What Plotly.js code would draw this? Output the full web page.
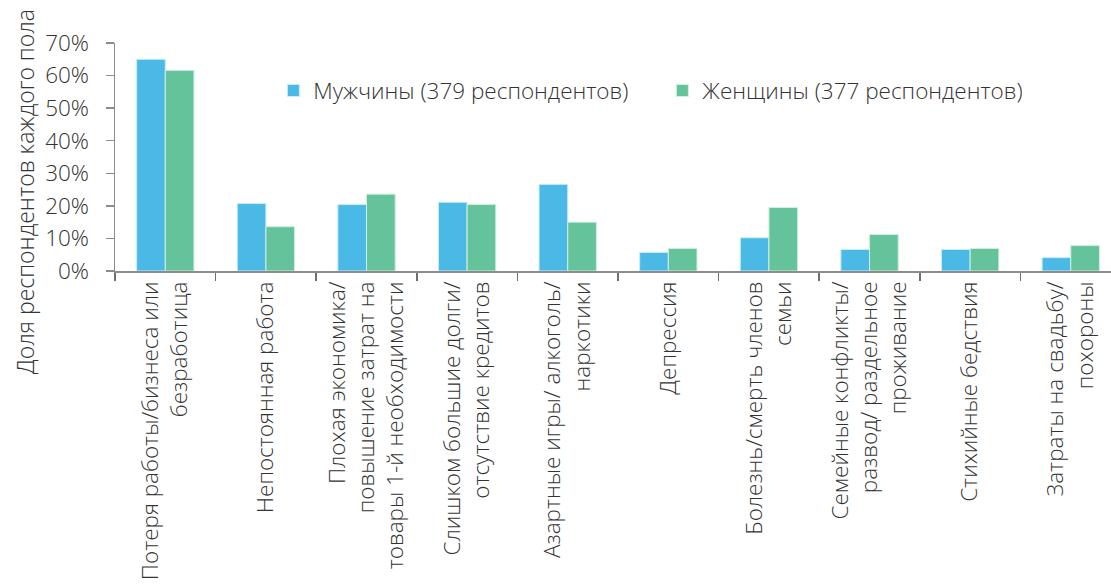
<!DOCTYPE html>
<html>
<head>
<meta charset="utf-8">
<script src="https://cdn.plot.ly/plotly-3.0.1.min.js"></script>
<style>html,body{margin:0;padding:0;overflow:hidden;background:#fff;}</style>
</head>
<body>
<div id="chart" style="width:1111px;height:584px;"></div>
<script>
const categories = [
  "Потеря работы/бизнеса или<br>безработица",
  "Непостоянная работа",
  "Плохая экономика/<br>повышение затрат на<br>товары 1-й необходимости",
  "Слишком большие долги/<br>отсутствие кредитов",
  "Азартные игры/ алкоголь/<br>наркотики",
  "Депрессия",
  "Болезнь/смерть членов<br>семьи",
  "Семейные конфликты/<br>развод/ раздельное<br>проживание",
  "Стихийные бедствия",
  "Затраты на свадьбу/<br>похороны"
];
const menName = "Мужчины (379 респондентов)";
const womenName = "Женщины (377 респондентов)";
const menValues = [65.0, 20.7, 20.4, 21.1, 26.6, 5.7, 10.2, 6.6, 6.6, 4.1];
const womenValues = [61.6, 13.6, 23.6, 20.4, 15.0, 6.9, 19.5, 11.2, 6.9, 7.8];
const yTitle = "Доля респондентов каждого пола";

const fontFam = "'Open Sans', 'DejaVu Sans', sans-serif";
const textColor = "#333333";

const traces = [
  {type: "bar", name: menName, x: categories, y: menValues,
   marker: {color: "#4ab9e5", line: {color: "#c9ecf8", width: 1}}},
  {type: "bar", name: womenName, x: categories, y: womenValues,
   marker: {color: "#65c39b", line: {color: "#d0efe1", width: 1}}}
];

const layout = {
  width: 1111, height: 584,
  margin: {l: 115, r: 0, t: 43, b: 313},
  paper_bgcolor: "#fff", plot_bgcolor: "#fff",
  font: {family: fontFam, size: 22, color: textColor, weight: 300},
  barmode: "group", bargap: 0.43, bargroupgap: 0,
  showlegend: true,
  legend: {orientation: "h", x: 0.159, xanchor: "left", y: 0.79, yanchor: "middle",
           font: {size: 22.5, family: fontFam, color: textColor, weight: 300},
           entrywidth: 344, entrywidthmode: "pixels", bgcolor: "rgba(0,0,0,0)"},
  xaxis: {type: "category", range: [-0.5, 9.4], showline: true, linecolor: "#8c8c8c", linewidth: 1.5,
          ticks: "outside", tickson: "boundaries", ticklen: 8, tickcolor: "#6f6f6f", tickwidth: 1.5,
          tickangle: -90, showgrid: false, zeroline: false,
          tickfont: {size: 22.5, family: fontFam, color: textColor, weight: 300}},
  yaxis: {range: [0, 70], dtick: 10, ticksuffix: "%", showline: true, linecolor: "#8c8c8c", linewidth: 1.5,
          ticks: "outside", ticklen: 8, tickcolor: "#8c8c8c", tickwidth: 1.5,
          ticklabelstandoff: 12,
          showgrid: false, zeroline: false,
          tickfont: {size: 22.5, family: fontFam, color: textColor, weight: 300}},
  annotations: [{text: yTitle, xref: "paper", yref: "paper", x: -0.0904, y: 0.35,
                 xanchor: "center", yanchor: "middle", textangle: -90, showarrow: false,
                 font: {size: 23, family: fontFam, color: textColor, weight: 300}}]
};

Plotly.newPlot("chart", traces, layout, {displayModeBar: false, staticPlot: true});
</script>
</body>
</html>
